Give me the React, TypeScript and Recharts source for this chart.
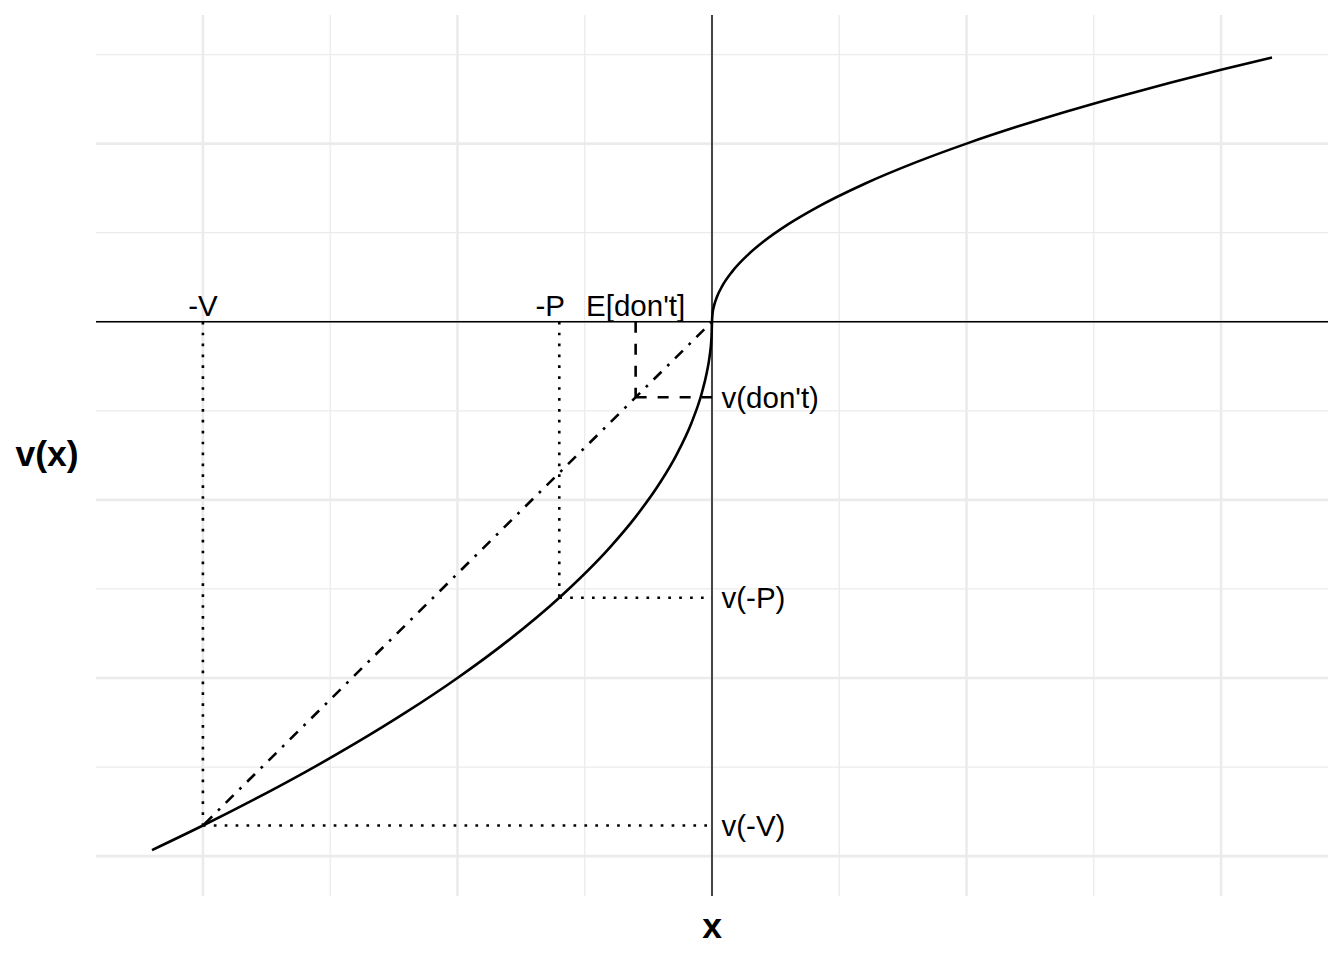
import React from "react";
import {
  ComposedChart,
  Line,
  XAxis,
  YAxis,
  ReferenceLine,
  ReferenceDot,
} from "recharts";

// value function v(x)
const xs = [
  -1.1, -1.0, -0.9, -0.8, -0.7, -0.6, -0.5, -0.4, -0.3, -0.2, -0.15, -0.1, -0.07, -0.04, -0.02,
  -0.01, -0.005, -0.001, 0, 0.001, 0.005, 0.01, 0.02, 0.04, 0.07, 0.1, 0.15, 0.2, 0.3, 0.4, 0.5,
  0.6, 0.7, 0.8, 0.9, 1.0, 1.1,
];
const vs = [
  -1.4832, -1.4142, -1.3416, -1.2649, -1.1832, -1.0954, -1.0, -0.8944, -0.7746, -0.6325, -0.5477,
  -0.4472, -0.3742, -0.2828, -0.2, -0.1414, -0.1, -0.0447, 0, 0.0224, 0.05, 0.0707, 0.1, 0.1414,
  0.1871, 0.2236, 0.2739, 0.3162, 0.3873, 0.4472, 0.5, 0.5477, 0.5916, 0.6325, 0.6708, 0.7071,
  0.7416,
];

// key points
const V = -1;
const P = -0.3;
const E = -0.15;
const vV = -1.4142;
const vP = -0.7746;
const vE = -0.2121;

// grid breaks
const majorX = [-1, -0.5, 0, 0.5, 1];
const minorX = [-0.75, -0.25, 0.25, 0.75];
const majorY = [-1.5, -1, -0.5, 0, 0.5];
const minorY = [-1.25, -0.75, -0.25, 0.25, 0.75];

const topLabels = [
  { x: V, text: "-V" },
  { x: P, text: "-P" },
  { x: E, text: "E[don't]" },
];
const sideLabels = [
  { y: vE, text: "v(don't)" },
  { y: vP, text: "v(-P)" },
  { y: vV, text: "v(-V)" },
];

const dotted = [
  [{ x: V, y: 0 }, { x: V, y: vV }],
  [{ x: V, y: vV }, { x: 0, y: vV }],
  [{ x: P, y: 0 }, { x: P, y: vP }],
  [{ x: P, y: vP }, { x: 0, y: vP }],
];
const dashed = [
  [{ x: E, y: 0 }, { x: E, y: vE }],
  [{ x: E, y: vE }, { x: 0, y: vE }],
];
const dashDot = [[{ x: 0, y: 0 }, { x: V, y: vV }]];

const data = xs.map((x, i) => ({ x, v: vs[i] }));

const FONT = "'Liberation Sans', Arial, Helvetica, sans-serif";
const GRID = "#EBEBEB";
const labelShift: { [k: string]: number } = { "-P": -9 };

const XTitle = (props: any) => {
  const vb = props.viewBox;
  return (
    <text x={vb.x + vb.width / 2} y={vb.y + 42} textAnchor="middle" fontFamily={FONT} fontWeight="bold" fontSize={35.5} fill="#000">
      x
    </text>
  );
};

const YTitle = (props: any) => {
  const vb = props.viewBox;
  return (
    <text x={vb.x + 39} y={vb.y + vb.height / 2 + 10.5} textAnchor="middle" fontFamily={FONT} fontWeight="bold" fontSize={35.5} fill="#000">
      v(x)
    </text>
  );
};

export default function App() {
  return (
    <div style={{ width: 1328, height: 944 }}>
      <ComposedChart width={1328} height={944} data={data} margin={{ top: 7, right: 8, bottom: 0, left: 0 }}>
        <XAxis
          dataKey="x"
          type="number"
          domain={[-1.21, 1.21]}
          allowDataOverflow
          tick={false}
          axisLine={false}
          tickLine={false}
          height={56}
          label={{ content: XTitle }}
        />
        <YAxis
          type="number"
          domain={[-1.612, 0.861]}
          allowDataOverflow
          tick={false}
          axisLine={false}
          tickLine={false}
          width={88}
          label={{ content: YTitle }}
        />
        {/* grid: minor then major */}
        {minorX.map((v) => (
          <ReferenceLine key={"mnx" + v} x={v} stroke={GRID} strokeWidth={1.3} />
        ))}
        {minorY.map((v) => (
          <ReferenceLine key={"mny" + v} y={v} stroke={GRID} strokeWidth={1.3} />
        ))}
        {majorX.map((v) => (
          <ReferenceLine key={"mjx" + v} x={v} stroke={GRID} strokeWidth={2.6} />
        ))}
        {majorY.map((v) => (
          <ReferenceLine key={"mjy" + v} y={v} stroke={GRID} strokeWidth={2.6} />
        ))}
        <ReferenceLine y={0} stroke="#000" strokeWidth={1.4} />
        <ReferenceLine x={0} stroke="#000" strokeWidth={1.4} />
        <Line dataKey="v" type="monotone" stroke="#000" strokeWidth={2.6} dot={false} activeDot={false} isAnimationActive={false} />
        {dotted.map((seg, i) => (
          <ReferenceLine key={"dt" + i} segment={seg} stroke="#000" strokeWidth={2.6} strokeDasharray="2.7 8.2" />
        ))}
        {dashed.map((seg, i) => (
          <ReferenceLine key={"ds" + i} segment={seg} stroke="#000" strokeWidth={2.6} strokeDasharray="11 11" />
        ))}
        {dashDot.map((seg, i) => (
          <ReferenceLine key={"dd" + i} segment={seg} stroke="#000" strokeWidth={2.6} strokeDasharray="2.7 8.2 11 8.2" />
        ))}
        {topLabels.map((l) => (
          <ReferenceDot
            key={l.text}
            x={l.x}
            y={0}
            r={1}
            shape={(p: any) => (
              <text x={p.cx + (labelShift[l.text] || 0)} y={p.cy - 6} textAnchor="middle" fontFamily={FONT} fontSize={29.5} fill="#000">
                {l.text}
              </text>
            )}
          />
        ))}
        {sideLabels.map((l) => (
          <ReferenceDot
            key={l.text}
            x={0}
            y={l.y}
            r={1}
            shape={(p: any) => (
              <text x={p.cx + 9.5} y={p.cy + 10.5} textAnchor="start" fontFamily={FONT} fontSize={29.5} fill="#000">
                {l.text}
              </text>
            )}
          />
        ))}
      </ComposedChart>
    </div>
  );
}
